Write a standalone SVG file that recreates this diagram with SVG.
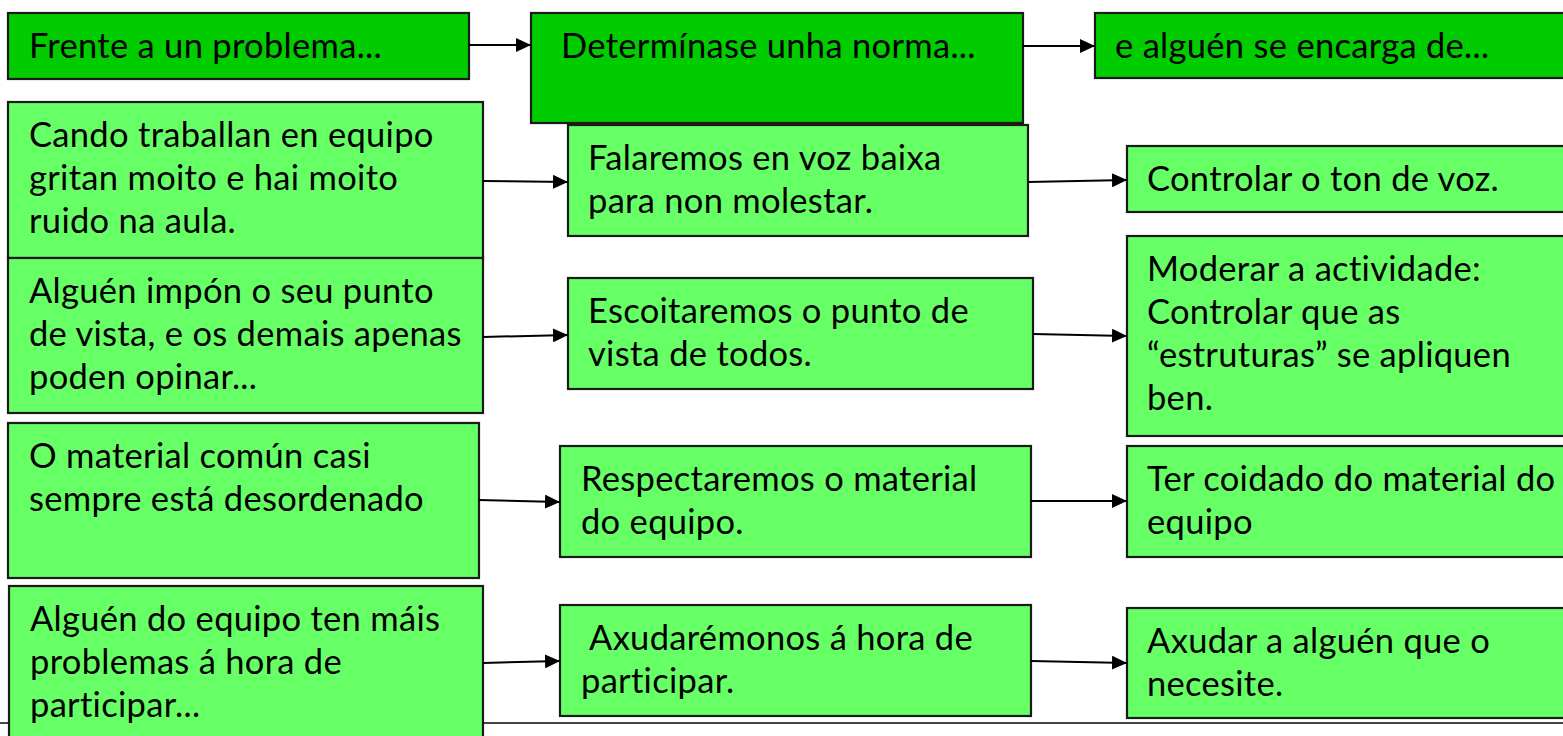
<svg xmlns="http://www.w3.org/2000/svg" width="1563" height="736" viewBox="0 0 1563 736">
<defs>
<marker id="ah" markerWidth="15" markerHeight="14" refX="15" refY="7" orient="auto" markerUnits="userSpaceOnUse">
<path d="M0,0 L15,7 L0,14 Z" fill="#000"/>
</marker>
<style>
.dk{fill:#00CC00;stroke:#1a1a1a;stroke-width:2.2}
.lt{fill:#66FF66;stroke:#1a1a1a;stroke-width:2.2}
text{font-family:Lato,"Open Sans","Liberation Sans",sans-serif;font-size:34.5px;letter-spacing:0.3px;font-variant-ligatures:none;fill:#000}
.cn line{stroke:#000;stroke-width:2;marker-end:url(#ah)}
</style>
</defs>
<rect width="1563" height="736" fill="#fff"/>
<line x1="0" y1="723" x2="1563" y2="723" stroke="#444" stroke-width="2"/>

<g id="n-frente"><rect class="dk" x="8" y="13" width="461" height="66"/><text x="29" y="58">Frente a un problema...</text></g>
<g id="n-norma"><rect class="dk" x="531" y="13" width="492" height="110"/><text x="561" y="58">Determínase unha norma...</text></g>
<g id="n-encarga"><rect class="dk" x="1095" y="13" width="480" height="65"/><text x="1115" y="58">e alguén se encarga de...</text></g>

<g id="n-cando"><rect class="lt" x="8" y="102" width="475" height="156"/><text x="29" y="147">Cando traballan en equipo</text><text x="29" y="190">gritan moito e hai moito</text><text x="29" y="233">ruido na aula.</text></g>
<g id="n-impon"><rect class="lt" x="8" y="258" width="475" height="155"/><text x="29" y="303">Alguén impón o seu punto</text><text x="29" y="346">de vista, e os demais apenas</text><text x="29" y="389">poden opinar...</text></g>
<g id="n-material"><rect class="lt" x="8" y="423" width="471" height="155"/><text x="29" y="468">O material común casi</text><text x="29" y="511">sempre está desordenado</text></g>
<g id="n-alguen"><rect class="lt" x="9" y="586" width="474" height="170"/><text x="30" y="631">Alguén do equipo ten máis</text><text x="30" y="674">problemas á hora de</text><text x="30" y="717">participar...</text></g>

<g id="n-falaremos"><rect class="lt" x="568" y="125" width="460" height="111"/><text x="588" y="170">Falaremos en voz baixa</text><text x="588" y="213">para non molestar.</text></g>
<g id="n-escoitaremos"><rect class="lt" x="568" y="278" width="465" height="111"/><text x="588" y="323">Escoitaremos o punto de</text><text x="588" y="366">vista de todos.</text></g>
<g id="n-respectaremos"><rect class="lt" x="560" y="446" width="471" height="111"/><text x="581" y="491">Respectaremos o material</text><text x="581" y="534">do equipo.</text></g>
<g id="n-axudaremonos"><rect class="lt" x="560" y="605" width="471" height="111"/><text x="581" y="650" xml:space="preserve"> Axudarémonos á hora de</text><text x="581" y="693">participar.</text></g>

<g id="n-ton"><rect class="lt" x="1127" y="146" width="450" height="66"/><text x="1147" y="191">Controlar o ton de voz.</text></g>
<g id="n-moderar"><rect class="lt" x="1127" y="236" width="450" height="200"/><text x="1147" y="281">Moderar a actividade:</text><text x="1147" y="324">Controlar que as</text><text x="1147" y="367">“estruturas” se apliquen</text><text x="1147" y="410">ben.</text></g>
<g id="n-coidado"><rect class="lt" x="1127" y="446" width="450" height="111"/><text x="1147" y="491">Ter coidado do material do</text><text x="1147" y="534">equipo</text></g>
<g id="n-axudar"><rect class="lt" x="1127" y="608" width="450" height="110"/><text x="1147" y="653">Axudar a alguén que o</text><text x="1147" y="696">necesite.</text></g>

<g id="connectors" class="cn">
<line x1="469" y1="45" x2="531" y2="45"/>
<line x1="1023" y1="46" x2="1095" y2="46"/>
<line x1="483" y1="181" x2="568" y2="182"/>
<line x1="483" y1="337" x2="568" y2="335"/>
<line x1="479" y1="500" x2="560" y2="502"/>
<line x1="483" y1="663" x2="560" y2="661"/>
<line x1="1028" y1="182" x2="1127" y2="180"/>
<line x1="1033" y1="334" x2="1127" y2="336"/>
<line x1="1031" y1="501" x2="1127" y2="501"/>
<line x1="1031" y1="661" x2="1127" y2="663"/>
</g>
</svg>
